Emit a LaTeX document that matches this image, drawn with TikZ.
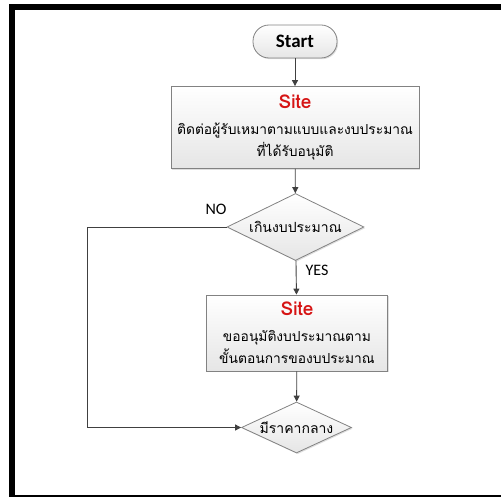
\documentclass[tikz,border=0pt]{standalone}
\usepackage{fontspec}
\setmainfont{Carlito}
\newfontfamily\thaifont[Script=Thai]{Loma}
\usetikzlibrary{shapes.geometric,arrows.meta,shadows}
\definecolor{sitered}{RGB}{214,20,20}
\definecolor{edgegray}{RGB}{130,130,130}
\definecolor{arrowgray}{RGB}{64,64,64}
\newcommand{\sitetitle}{{\fontsize{19}{22}\selectfont\bfseries\color{sitered}Site}}
\begin{document}
\begin{tikzpicture}[x=1pt,y=-1pt,
  shapebase/.style={draw=edgegray, line width=0.8pt, top color=white, bottom color=black!10,
    drop shadow={opacity=0.25, shadow xshift=1.2pt, shadow yshift=-1.2pt}},
  terminal/.style={shapebase, rectangle, rounded corners=16pt, minimum width=84pt, minimum height=33pt,
    inner sep=0pt, font=\fontsize{19}{22}\selectfont\bfseries},
  procbox/.style={shapebase, rectangle, inner sep=0pt, align=center,
    font=\fontsize{13.8}{22.5}\thaifont},
  decision/.style={shapebase, diamond, inner sep=0pt, font=\fontsize{14}{18}\thaifont},
  flow/.style={draw=arrowgray, line width=0.9pt, -{Triangle[length=6pt,width=6pt]}},
  branchlabel/.style={inner sep=0pt, font=\fontsize{16}{18}\selectfont}
]
\useasboundingbox (0,0) rectangle (501,497);
% frame
\fill[black] (9,4) rectangle (501,10);
\fill[black] (9,4) rectangle (15,497);
\fill[black] (15,495) rectangle (501,496.6);

\node[terminal] (start) at (295,41.5) {Start};
\node[procbox, minimum width=248pt, minimum height=82pt] (box1) at (295,127.5)
  {\sitetitle\\[3pt] ติดต่อผู้รับเหมาตามแบบและงบประมาณ\\ ที่ได้รับอนุมัติ};
\node[decision, minimum width=137pt, minimum height=67pt] (dia1) at (295.5,227)
  {\makebox[0pt]{เกินงบประมาณ}};
\node[procbox, minimum width=181pt, minimum height=76pt] (box2) at (297,333)
  {\sitetitle\\[3pt] ขออนุมัติงบประมาณตาม\\ ขั้นตอนการของบประมาณ};
\node[decision, minimum width=110pt, minimum height=51pt] (dia2) at (296.5,427.5)
  {\makebox[0pt]{มีราคากลาง}};

\coordinate (noturn) at (87,227);

\draw[flow] (start) -- (box1);
\draw[flow] (box1) -- (dia1);
\draw[flow] (dia1) -- node[branchlabel, right=9pt, pos=0.3] (yes) {YES} (box2);
\draw[flow] (box2) -- (dia2);
\draw[flow] (dia1.west) -- (noturn) |- (dia2.west);
\node[branchlabel] (no) at (216,209) {NO};
\end{tikzpicture}
\end{document}
